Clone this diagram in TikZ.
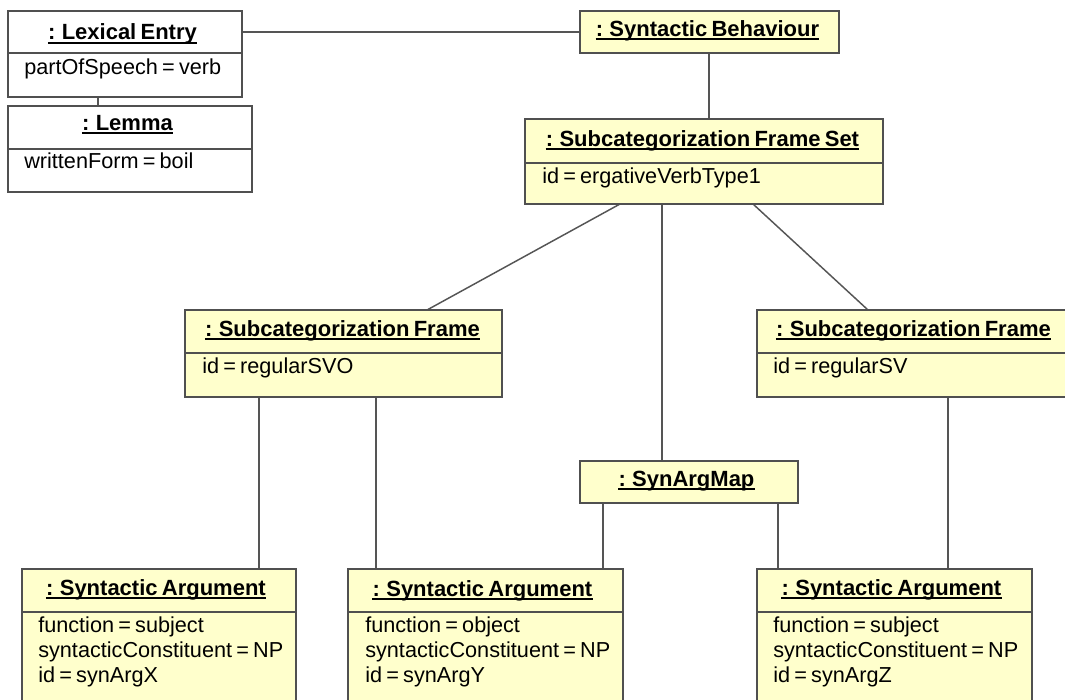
\documentclass[tikz,border=0pt]{standalone}
\usepackage{fontspec}
\setmainfont{Liberation Sans}[WordSpace=0.7]
\usetikzlibrary{calc}

\definecolor{objfill}{RGB}{255,255,204}
\definecolor{objedge}{RGB}{80,80,80}
\definecolor{linkcol}{RGB}{85,85,85}

\tikzset{
  objframe/.style={draw=objedge, line width=1.5pt, inner sep=0pt, outer sep=0pt, anchor=north west},
  objsep/.style={draw=objedge, line width=1.1pt},
  objtitle/.style={font=\bfseries\fontsize{16.5pt}{18pt}\selectfont, inner sep=0pt, anchor=base},
  objattr/.style={font=\fontsize{16.25pt}{18.75pt}\selectfont, inner sep=0pt, anchor=base west},
  titlerule/.style={draw=black, line width=1.5pt},
  link/.style={draw=linkcol, line width=1.1pt},
}

% object box: name, fill, left, top, right, bottom (pixel units, y down)
\newcommand{\objbox}[6]{%
  \node[objframe, fill=#2, minimum width={(#5-#3)*0.75pt}, minimum height={(#6-#4)*0.75pt}] (#1) at (#3,#4) {};
}
% compartment line of a box at a given y
\newcommand{\objdivider}[2]{%
  \draw[objsep] (#1.west |- 0,#2) -- (#1.east |- 0,#2);
}
% underlined object name: node name, centre x, baseline y, text
\newcommand{\objname}[4]{%
  \node[objtitle] (#1) at (#2,#3) {#4};
  \draw[titlerule] ([yshift=-2.6pt]#1.base west) -- ([yshift=-2.6pt]#1.base east);
}

\begin{document}
\begin{tikzpicture}[x=0.75pt,y=-0.75pt]
\useasboundingbox (0,0) rectangle (1065,700);
\clip (0,0) rectangle (1065,700);
\fill[white] (0,0) rectangle (1065,700);

% ---- boxes ----
\objbox{le}{white}{8}{11}{242}{97}
\objbox{lemma}{white}{8}{106}{252}{192}
\objbox{sb}{objfill}{580}{11}{839}{53}
\objbox{sfs}{objfill}{525}{119}{883}{204}
\objbox{sf1}{objfill}{185}{310}{502}{397}
\objbox{sf2}{objfill}{757}{310}{1070}{397}
\objbox{sam}{objfill}{580}{461}{798}{503}
\objbox{sa1}{objfill}{22}{569}{296}{720}
\objbox{sa2}{objfill}{348}{569}{623}{720}
\objbox{sa3}{objfill}{757}{569}{1032}{720}

% ---- links ----
\draw[link] (le.east |- 0,32) -- (sb.west |- 0,32);
\draw[link] (le.south -| 98,0) -- (lemma.north -| 98,0);
\draw[link] (sb.south -| 709,0) -- (sfs.north -| 709,0);
\draw[link] (sfs.south -| 620,0) -- (sf1.north -| 427,0);
\draw[link] (sfs.south -| 662,0) -- (sam.north -| 662,0);
\draw[link] (sfs.south -| 753,0) -- (sf2.north -| 868,0);
\draw[link] (sf1.south -| 259,0) -- (sa1.north -| 259,0);
\draw[link] (sf1.south -| 376,0) -- (sa2.north -| 376,0);
\draw[link] (sf2.south -| 948,0) -- (sa3.north -| 948,0);
\draw[link] (sam.south -| 603,0) -- (sa2.north -| 603,0);
\draw[link] (sam.south -| 778,0) -- (sa3.north -| 778,0);

% ---- box outlines over link ends ----
\foreach \b in {le,lemma,sb,sfs,sf1,sf2,sam,sa1,sa2,sa3}
  \draw[objsep, line width=1.5pt] (\b.north west) rectangle (\b.south east);

% ---- compartments ----
\objdivider{le}{53}
\objdivider{lemma}{149}
\objdivider{sfs}{163}
\objdivider{sf1}{353}
\objdivider{sf2}{353}
\objdivider{sa1}{612}
\objdivider{sa2}{612}
\objdivider{sa3}{612}

% ---- object names ----
\objname{le-n}{122.5}{39.5}{: Lexical Entry}
\objname{lemma-n}{127.5}{130}{: Lemma}
\objname{sb-n}{707.5}{36}{: Syntactic Behaviour}
\objname{sfs-n}{702.5}{146}{: Subcategorization Frame Set}
\objname{sf1-n}{342.5}{336}{: Subcategorization Frame}
\objname{sf2-n}{913.5}{336}{: Subcategorization Frame}
\objname{sam-n}{686.5}{486}{: SynArgMap}
\objname{sa1-n}{156}{595}{: Syntactic Argument}
\objname{sa2-n}{482.5}{596}{: Syntactic Argument}
\objname{sa3-n}{891.5}{595}{: Syntactic Argument}

% ---- attribute values ----
\node[objattr] (le-a1) at (24,74) {partOfSpeech = verb};
\node[objattr] (lemma-a1) at (24,168.5) {writtenForm = boil};
\node[objattr] (sfs-a1) at (542,183) {id = ergativeVerbType1};
\node[objattr] (sf1-a1) at (202,373) {id = regularSVO};
\node[objattr] (sf2-a1) at (773,373) {id = regularSV};

\node[objattr] (sa1-a1) at (38,632) {function = subject};
\node[objattr] (sa1-a2) at (38,657) {syntacticConstituent = NP};
\node[objattr] (sa1-a3) at (38,682) {id = synArgX};

\node[objattr] (sa2-a1) at (365,632) {function = object};
\node[objattr] (sa2-a2) at (365,657) {syntacticConstituent = NP};
\node[objattr] (sa2-a3) at (365,682) {id = synArgY};

\node[objattr] (sa3-a1) at (773,632) {function = subject};
\node[objattr] (sa3-a2) at (773,657) {syntacticConstituent = NP};
\node[objattr] (sa3-a3) at (773,682) {id = synArgZ};
\end{tikzpicture}
\end{document}
